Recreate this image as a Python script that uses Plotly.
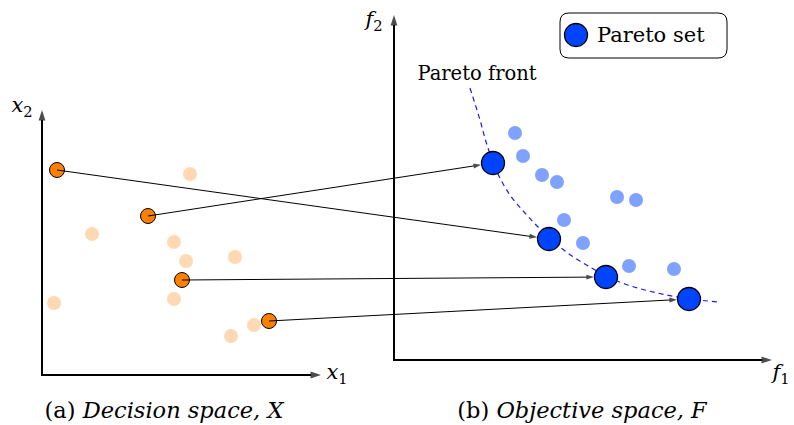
import math
import plotly.graph_objects as go

# ---- data (diagram canvas units, y measured downward) ----
# Decision space: solutions mapping to the Pareto set
sel_x1 = [57, 148, 182, 269]
sel_x2 = [170, 216, 280, 321]
# Decision space: other (dominated) solutions
dom_x1 = [190, 92, 174, 186, 235, 54, 174, 254, 231]
dom_x2 = [174, 234, 242, 261, 257, 303, 299, 325, 336]
# Objective space: Pareto set images
par_f1 = [493, 549, 606, 689]
par_f2 = [163, 239, 277, 299]
# Objective space: dominated images
oth_f1 = [515, 523, 542, 557, 617, 636, 564, 583, 629, 674]
oth_f2 = [133, 156, 175, 182, 197, 200, 220, 243, 266, 269]
# mapping: selected decision point i -> Pareto point mapping[i]
mapping = [1, 0, 2, 3]
# Pareto front curve samples
front_f1 = [470, 480, 487, 497, 510, 525, 540, 555, 572, 590, 606, 625, 645, 667, 690, 719]
front_f2 = [88, 120, 145, 172, 195, 213, 229, 243, 256, 267, 276, 284, 290, 295, 299, 302]

# axes frames: (origin_x, origin_y, x_tip, y_tip)
left_axes = (42, 375, 321, 110)
right_axes = (394, 360, 772, 15)

# text labels
axis_labels = ["<i>x</i><sub>2</sub>", "<i>x</i><sub>1</sub>", "<i>f</i><sub>2</sub>", "<i>f</i><sub>1</sub>"]
captions = ["(a) <i>Decision space, X</i>", "(b) <i>Objective space, F</i>"]
front_label = "Pareto front"
legend_label = "Pareto set"

FONT = "DejaVu Serif"
ORANGE = "#ff8000"
LORANGE = "#ffd9b3"
BLUE = "#0044ff"
LBLUE = "#80a2ff"
PARETO_R = 12  # gap between arrow tip and Pareto marker centre

fig = go.Figure()

fig.add_trace(go.Scatter(x=front_f1, y=front_f2, mode="lines",
                         line=dict(color="#1a1aff", width=1.2, dash="5px,4px", shape="spline"),
                         hoverinfo="skip", showlegend=False))
fig.add_trace(go.Scatter(x=dom_x1, y=dom_x2, mode="markers",
                         marker=dict(size=14, color=LORANGE, line=dict(width=0)),
                         showlegend=False))
fig.add_trace(go.Scatter(x=oth_f1, y=oth_f2, mode="markers",
                         marker=dict(size=14, color=LBLUE, line=dict(width=0)),
                         showlegend=False))
fig.add_trace(go.Scatter(x=sel_x1, y=sel_x2, mode="markers",
                         marker=dict(size=15, color=ORANGE, line=dict(width=1, color="black")),
                         showlegend=False))
fig.add_trace(go.Scatter(x=par_f1, y=par_f2, mode="markers",
                         marker=dict(size=23, color=BLUE, line=dict(width=1.3, color="black")),
                         showlegend=False))


def arrow(xs, ys, width, head):
    fig.add_trace(go.Scatter(
        x=xs, y=ys, mode="lines+markers", hoverinfo="skip", showlegend=False,
        line=dict(color="black", width=width),
        marker=dict(symbol="arrow", size=[0, head], angleref="previous",
                    color="black", line=dict(width=0))))


# axis arrows
for ox, oy, xt, yt in (left_axes, right_axes):
    arrow([ox - 1, xt], [oy, oy], 2, 11)
    arrow([ox, ox], [oy + 1, yt], 2, 11)

# mapping arrows (tip stops at the edge of the Pareto marker)
for i, j in enumerate(mapping):
    sx, sy = sel_x1[i], sel_x2[i]
    tx, ty = par_f1[j], par_f2[j]
    d = math.hypot(tx - sx, ty - sy)
    ex = tx - (tx - sx) / d * PARETO_R
    ey = ty - (ty - sy) / d * PARETO_R
    arrow([sx, ex], [sy, ey], 1, 8)


def label(x, y, txt, size, pos="middle center"):
    fig.add_trace(go.Scatter(x=[x], y=[y], mode="text", text=[txt], textposition=pos,
                             textfont=dict(family=FONT, size=size, color="black"),
                             hoverinfo="skip", showlegend=False))


label(22, 107, axis_labels[0], 21)
label(337, 374, axis_labels[1], 21)
label(374, 21, axis_labels[2], 21)
label(781, 374, axis_labels[3], 21)
label(477, 75, front_label, 19.5)
label(164, 412, captions[0], 22.5)
label(582, 412, captions[1], 22.5)
label(597, 37, legend_label, 21, pos="middle right")

# legend box (rounded) and symbol
x0, y0, x1, y1, r = 560, 13, 727, 58, 9
path = (f"M{x0+r},{y0} L{x1-r},{y0} Q{x1},{y0} {x1},{y0+r} L{x1},{y1-r} Q{x1},{y1} {x1-r},{y1} "
        f"L{x0+r},{y1} Q{x0},{y1} {x0},{y1-r} L{x0},{y0+r} Q{x0},{y0} {x0+r},{y0} Z")
shapes = [
    dict(type="path", path=path, xref="x", yref="y", line=dict(color="black", width=1),
         fillcolor="white", layer="below"),
    dict(type="circle", xref="x", yref="y", x0=576 - 11.5, x1=576 + 11.5, y0=35 - 11.5, y1=35 + 11.5,
         fillcolor=BLUE, line=dict(color="black", width=1.3), layer="above"),
]

fig.update_layout(
    width=794, height=425, autosize=False,
    margin=dict(l=0, r=0, t=0, b=0),
    paper_bgcolor="white", plot_bgcolor="white",
    font=dict(family=FONT),
    xaxis=dict(range=[0, 794], visible=False, fixedrange=True),
    yaxis=dict(range=[425, 0], visible=False, fixedrange=True),
    shapes=shapes,
    showlegend=False,
)

fig.write_html("out.html")
